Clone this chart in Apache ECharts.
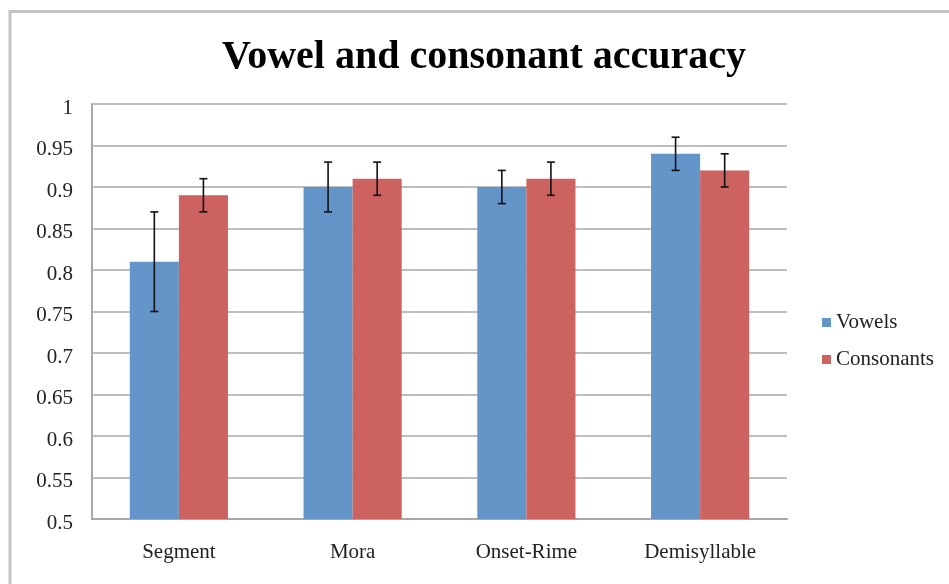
<!DOCTYPE html>
<html>
<head>
<meta charset="utf-8">
<script src="https://cdn.jsdelivr.net/npm/echarts@6/dist/echarts.min.js"></script>
<style>
  html, body { margin: 0; padding: 0; background: #fff; }
  #chart { width: 949px; height: 584px; }
</style>
</head>
<body>
<div id="chart"></div>
<script>
// data
var categories = ['Segment', 'Mora', 'Onset-Rime', 'Demisyllable'];
var vowels = [0.81, 0.90, 0.90, 0.94];
var consonants = [0.89, 0.91, 0.91, 0.92];
var vowelErr = [0.06, 0.03, 0.02, 0.02];
var consonantErr = [0.02, 0.02, 0.02, 0.02];

var catGap = 0.435; // share of category left empty
var serif = 'Liberation Serif';

function errorBars(values, errs, side) {
  return {
    type: 'custom',
    z: 10,
    silent: true,
    data: values.map(function (v, i) { return [i, v - errs[i], v + errs[i]]; }),
    encode: { x: 0, y: [1, 2] },
    renderItem: function (params, api) {
      var i = api.value(0);
      var lo = api.coord([i, api.value(1)]);
      var hi = api.coord([i, api.value(2)]);
      var bw = api.size([1, 0])[0] * (1 - catGap) / 2;
      var x = lo[0] + side * bw / 2;
      var cap = 4;
      var style = { stroke: '#111', lineWidth: 1.6 };
      return {
        type: 'group',
        children: [
          { type: 'line', shape: { x1: x, y1: lo[1], x2: x, y2: hi[1] }, style: style },
          { type: 'line', shape: { x1: x - cap, y1: lo[1], x2: x + cap, y2: lo[1] }, style: style },
          { type: 'line', shape: { x1: x - cap, y1: hi[1], x2: x + cap, y2: hi[1] }, style: style }
        ]
      };
    }
  };
}

var chart = echarts.init(document.getElementById('chart'));
chart.setOption({
  animation: false,
  title: {
    text: 'Vowel and consonant accuracy',
    left: 479,
    textAlign: 'center',
    top: 33,
    textStyle: {
      fontFamily: serif,
      fontWeight: 'bold',
      fontSize: 40,
      color: '#000'
    }
  },
  graphic: [
    {
      type: 'polyline',
      shape: { points: [[10, 584], [10, 11.5], [949, 11.5]] },
      style: { stroke: '#c4c4c4', lineWidth: 3, fill: null }
    }
  ],
  legend: {
    orient: 'vertical',
    left: 822,
    top: 312,
    padding: 0,
    itemWidth: 9,
    itemHeight: 9,
    itemGap: 16,
    icon: 'rect',
    textStyle: { fontFamily: serif, fontSize: 21, color: '#222' },
    data: ['Vowels', 'Consonants']
  },
  grid: { left: 92, top: 104, right: 162, bottom: 65 },
  xAxis: {
    type: 'category',
    data: categories,
    axisTick: { show: false },
    axisLine: { lineStyle: { color: '#a8a8a8', width: 2 } },
    axisLabel: { fontFamily: serif, fontSize: 21, color: '#222', margin: 23 }
  },
  yAxis: {
    type: 'value',
    min: 0.5,
    max: 1,
    interval: 0.05,
    axisLine: { show: true, lineStyle: { color: '#a8a8a8', width: 2 } },
    axisTick: { show: false },
    splitLine: { lineStyle: { color: '#a8a8a8', width: 1.6 } },
    axisLabel: {
      fontFamily: serif, fontSize: 21, color: '#222', margin: 19,
      verticalAlign: 'top',
      lineHeight: 8,
      formatter: function (v) { return String(Math.round(v * 100) / 100); }
    }
  },
  series: [
    {
      name: 'Vowels',
      type: 'bar',
      data: vowels,
      barGap: '0%',
      barCategoryGap: (catGap * 100) + '%',
      itemStyle: { color: '#6395c9' }
    },
    {
      name: 'Consonants',
      type: 'bar',
      data: consonants,
      itemStyle: { color: '#cc6360' }
    },
    errorBars(vowels, vowelErr, -1),
    errorBars(consonants, consonantErr, 1)
  ]
});
</script>
</body>
</html>
